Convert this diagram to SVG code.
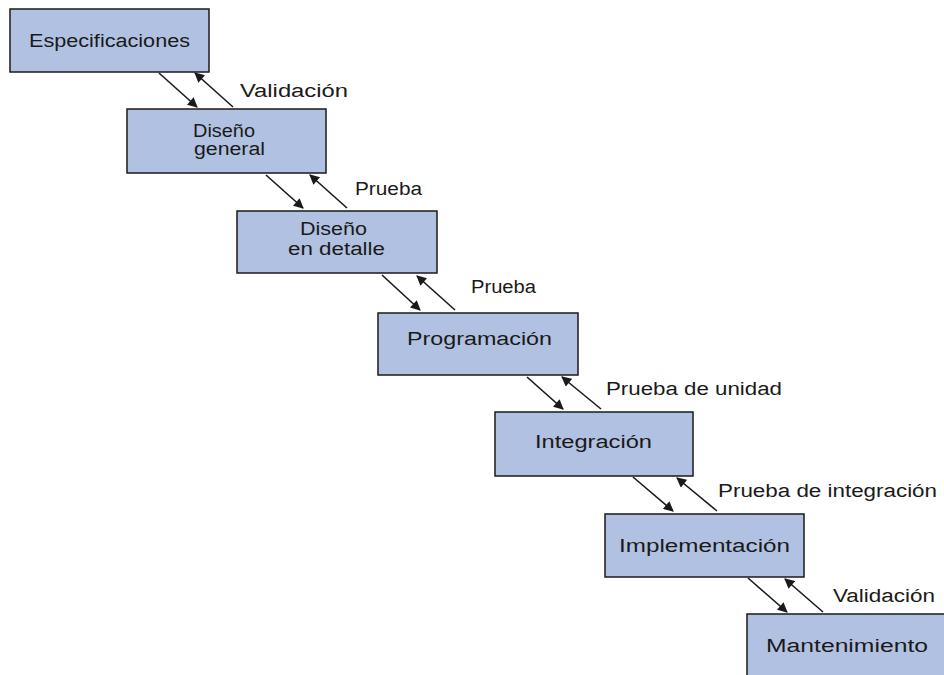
<svg xmlns="http://www.w3.org/2000/svg" width="944" height="675" viewBox="0 0 944 675">
<style>
.box{fill:#b1c1e1;stroke:#1a1a1a;stroke-width:1.5}
.t{font-family:"Liberation Sans",Arial,sans-serif;font-size:18px;fill:#1a1a1a}
.c{stroke:#1a1a1a;stroke-width:1.6;fill:none;marker-end:url(#ah)}
</style>
<defs>
<marker id="ah" viewBox="0 0 10 10" refX="9" refY="5" markerWidth="11" markerHeight="10" orient="auto" markerUnits="userSpaceOnUse">
<path d="M0,0 L10,5 L0,10 z" fill="#1a1a1a"/>
</marker>
</defs>
<rect width="944" height="675" fill="#fff"/>
<g id="connectors">
<line class="c" x1="159" y1="73" x2="197" y2="107"/>
<line class="c" x1="233" y1="107" x2="195" y2="73"/>
<line class="c" x1="266" y1="175" x2="303" y2="208"/>
<line class="c" x1="347" y1="208" x2="310" y2="175"/>
<line class="c" x1="382" y1="275" x2="420" y2="310"/>
<line class="c" x1="455" y1="310" x2="417" y2="276"/>
<line class="c" x1="527" y1="377" x2="563" y2="409"/>
<line class="c" x1="601" y1="409" x2="562" y2="377"/>
<line class="c" x1="633" y1="477" x2="673" y2="511"/>
<line class="c" x1="717" y1="511" x2="677" y2="478"/>
<line class="c" x1="748" y1="578" x2="787" y2="612"/>
<line class="c" x1="823" y1="612" x2="785" y2="579"/>
</g>
<g id="labels">
<text class="t" x="240" y="97" textLength="108" lengthAdjust="spacingAndGlyphs">Validación</text>
<text class="t" x="355" y="195" textLength="67" lengthAdjust="spacingAndGlyphs">Prueba</text>
<text class="t" x="471" y="293" textLength="65" lengthAdjust="spacingAndGlyphs">Prueba</text>
<text class="t" x="606" y="395" textLength="176" lengthAdjust="spacingAndGlyphs">Prueba de unidad</text>
<text class="t" x="718" y="497" textLength="219" lengthAdjust="spacingAndGlyphs">Prueba de integración</text>
<text class="t" x="833" y="602" textLength="102" lengthAdjust="spacingAndGlyphs">Validación</text>
</g>
<g id="especificaciones">
<rect class="box" x="10" y="9" width="199" height="63"/>
<text class="t" x="29" y="47" textLength="161" lengthAdjust="spacingAndGlyphs">Especificaciones</text>
</g>
<g id="diseno-general">
<rect class="box" x="127" y="109" width="199" height="64"/>
<text class="t" x="193" y="137" textLength="62" lengthAdjust="spacingAndGlyphs">Diseño</text>
<text class="t" x="194" y="155" textLength="71" lengthAdjust="spacingAndGlyphs">general</text>
</g>
<g id="diseno-detalle">
<rect class="box" x="237" y="211" width="200" height="62"/>
<text class="t" x="300" y="235" textLength="67" lengthAdjust="spacingAndGlyphs">Diseño</text>
<text class="t" x="288" y="255" textLength="97" lengthAdjust="spacingAndGlyphs">en detalle</text>
</g>
<g id="programacion">
<rect class="box" x="378" y="313" width="200" height="62"/>
<text class="t" x="407" y="345" textLength="145" lengthAdjust="spacingAndGlyphs">Programación</text>
</g>
<g id="integracion">
<rect class="box" x="495" y="412" width="198" height="64"/>
<text class="t" x="535" y="448" textLength="117" lengthAdjust="spacingAndGlyphs">Integración</text>
</g>
<g id="implementacion">
<rect class="box" x="605" y="514" width="199" height="63"/>
<text class="t" x="619" y="552" textLength="171" lengthAdjust="spacingAndGlyphs">Implementación</text>
</g>
<g id="mantenimiento">
<rect class="box" x="747" y="614" width="200" height="63"/>
<text class="t" x="766" y="652" textLength="162" lengthAdjust="spacingAndGlyphs">Mantenimiento</text>
</g>
</svg>
